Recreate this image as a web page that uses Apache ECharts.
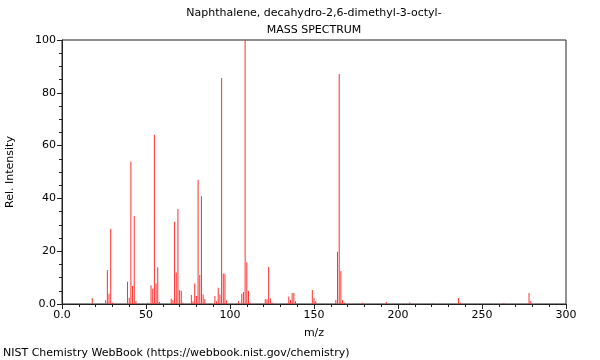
<!DOCTYPE html>
<html>
<head>
<meta charset="utf-8">
<script src="https://cdn.jsdelivr.net/npm/echarts@6/dist/echarts.min.js"></script>
<style>html,body{margin:0;padding:0;background:#fff}#c{width:600px;height:360px}</style>
</head>
<body>
<div id="c"></div>
<script>
const titleLine1 = "Naphthalene, decahydro-2,6-dimethyl-3-octyl-";
const titleLine2 = "MASS SPECTRUM";
const footer = "NIST Chemistry WebBook (https://webbook.nist.gov/chemistry)";
const xName = "m/z";
const yName = "Rel. Intensity";

const mz = [18,26,27,28,29,30,39,40,41,42,43,44,51,53,54,55,56,57,58,
  65,66,67,68,69,70,71,72,77,78,79,80,81,82,83,84,85,
  91,92,93,94,95,96,97,98,105,107,108,109,110,111,112,
  121,122,123,124,125,135,136,137,138,139,149,150,151,
  163,164,165,166,167,168,179,193,207,221,236,237,263,278,279];
const intensity = [2.3,1.4,12.9,3.9,28.5,0.5,8.4,2.4,54,6.8,33.3,1,0.5,7.1,5.8,64.1,7.8,13.9,0.8,
  2,1.5,31.2,11.9,36,5.2,5,0.5,3.4,1,7.8,3,47.1,11,40.8,3.6,1.8,
  3,1,6.2,3.6,85.6,11.6,11.5,1.4,1,3.9,4.5,100,15.8,4.9,0.5,
  1.8,1.8,14,2.2,0.5,2.8,1.5,4.2,4.2,1,5.3,2.3,1,
  1.5,19.8,87.1,12.5,1.5,0.5,0.5,0.8,0.6,0.3,2.3,0.5,0.4,4.2,1.1];

const data = mz.map((m, i) => [m, intensity[i]]);
const font = "DejaVu Sans";
const axisColor = "#222";
const txt = (text, x, y, align) => ({type: 'text', x: x, y: y, silent: true,
  style: {text: text, font: '11px "DejaVu Sans"', fill: '#000', textAlign: align, textVerticalAlign: 'middle'}});

const chart = echarts.init(document.getElementById('c'), null, {renderer: 'canvas'});
chart.setOption({
  animation: false,
  backgroundColor: '#fff',
  textStyle: {fontFamily: font},
  grid: {left: 62, right: 34, top: 40, bottom: 56, show: true, borderColor: axisColor, borderWidth: 1,
    backgroundColor: 'transparent', containLabel: false, outerBoundsMode: 'none'},
  graphic: [
    txt(titleLine1, 314, 13, 'center'),
    txt(titleLine2, 314, 30, 'center'),
    txt(footer, 3, 353, 'left')
  ],
  xAxis: {
    type: 'value', min: 0, max: 300, interval: 50,
    name: xName, nameLocation: 'middle', nameGap: 24,
    nameTextStyle: {fontFamily: font, fontSize: 11, color: '#000'},
    axisLine: {show: true, lineStyle: {color: axisColor, width: 1}},
    axisTick: {show: true, length: 5, lineStyle: {color: axisColor}},
    minorTick: {show: true, splitNumber: 5, length: 3, lineStyle: {color: axisColor}},
    splitLine: {show: false},
    axisLabel: {fontFamily: font, fontSize: 11, color: '#000', margin: 6,
      formatter: v => v === 0 ? '0.0' : String(v)}
  },
  yAxis: {
    type: 'value', min: 0, max: 100, interval: 20,
    name: yName, nameLocation: 'middle', nameGap: 46, nameRotate: 90,
    nameTextStyle: {fontFamily: font, fontSize: 11, color: '#000'},
    axisLine: {show: true, lineStyle: {color: axisColor, width: 1}},
    axisTick: {show: true, length: 5, lineStyle: {color: axisColor}},
    minorTick: {show: true, splitNumber: 4, length: 3, lineStyle: {color: axisColor}},
    splitLine: {show: false},
    axisLabel: {fontFamily: font, fontSize: 11, color: '#000', margin: 6,
      formatter: v => v === 0 ? '0.0' : String(v)}
  },
  series: [{
    type: 'bar', data: data, barWidth: 1, barGap: '-100%',
    itemStyle: {color: '#ff3030'}, silent: true
  }]
});
</script>
</body>
</html>
